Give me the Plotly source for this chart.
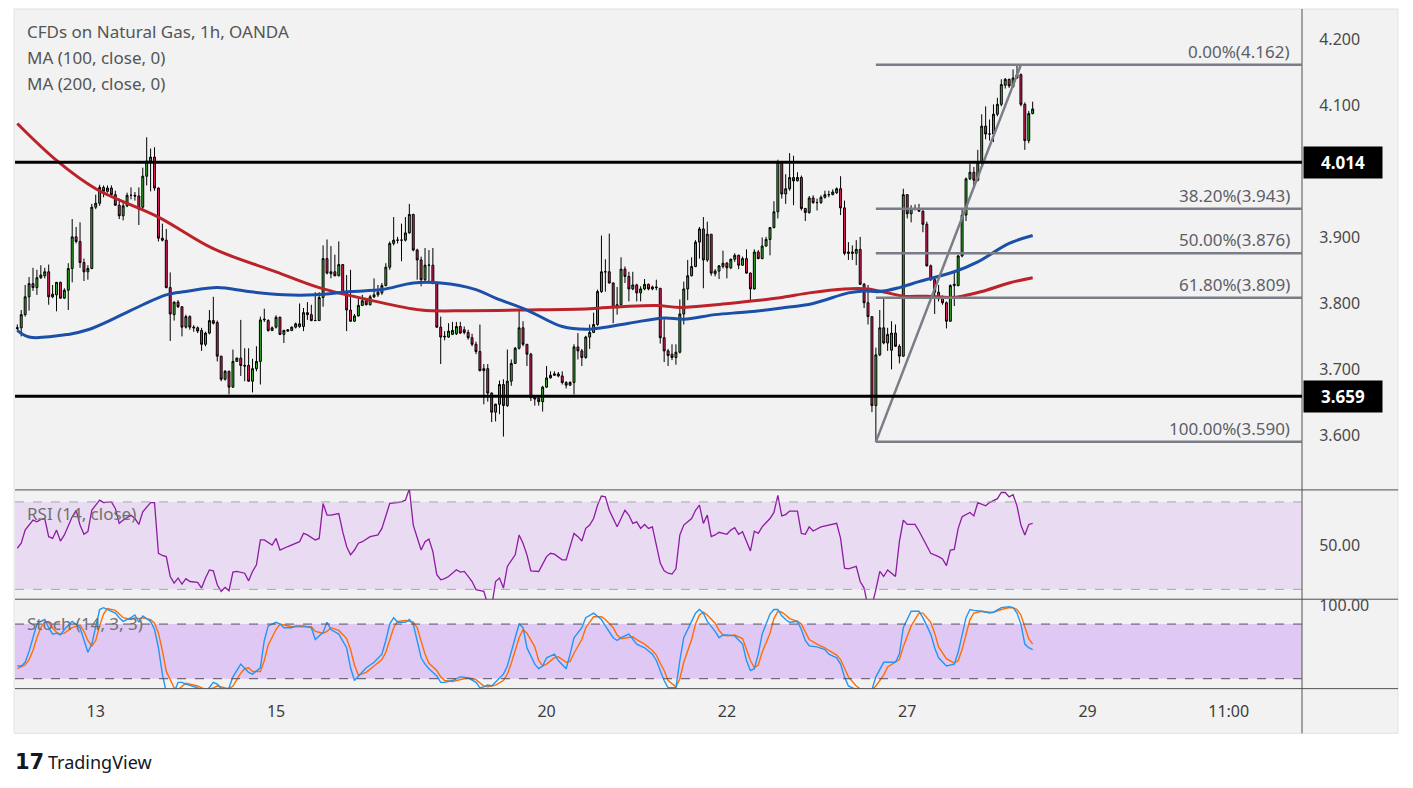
import plotly.graph_objects as go

# hourly candles, CFDs on Natural Gas (OANDA)
opens = [3.762, 3.763, 3.783, 3.810, 3.830, 3.824, 3.839, 3.842, 3.848, 3.810,
         3.813, 3.832, 3.808, 3.820, 3.853, 3.901, 3.894, 3.862, 3.848, 3.853,
         3.946, 3.952, 3.976, 3.970, 3.975, 3.965, 3.949, 3.933, 3.948, 3.964,
         3.964, 3.963, 3.946, 3.993, 4.016, 4.022, 3.975, 3.899, 3.896, 3.824,
         3.783, 3.802, 3.795, 3.764, 3.780, 3.764, 3.763, 3.759, 3.738, 3.755,
         3.774, 3.771, 3.720, 3.685, 3.697, 3.673, 3.712, 3.717, 3.706, 3.706,
         3.682, 3.701, 3.712, 3.775, 3.774, 3.759, 3.764, 3.779, 3.753, 3.758,
         3.759, 3.764, 3.765, 3.765, 3.786, 3.783, 3.774, 3.774, 3.809, 3.868,
         3.845, 3.848, 3.842, 3.859, 3.816, 3.790, 3.773, 3.781, 3.797, 3.804,
         3.798, 3.810, 3.813, 3.816, 3.827, 3.855, 3.891, 3.896, 3.896, 3.896,
         3.907, 3.935, 3.881, 3.866, 3.836, 3.858, 3.858, 3.831, 3.764, 3.749,
         3.749, 3.753, 3.754, 3.765, 3.760, 3.756, 3.748, 3.738, 3.727, 3.698,
         3.701, 3.664, 3.635, 3.647, 3.677, 3.645, 3.682, 3.709, 3.732, 3.763,
         3.738, 3.723, 3.657, 3.656, 3.651, 3.673, 3.687, 3.691, 3.693, 3.690,
         3.680, 3.676, 3.680, 3.734, 3.728, 3.718, 3.749, 3.756, 3.768, 3.818,
         3.848, 3.848, 3.831, 3.794, 3.798, 3.852, 3.841, 3.822, 3.828, 3.816,
         3.822, 3.829, 3.822, 3.825, 3.823, 3.748, 3.728, 3.723, 3.718, 3.726,
         3.784, 3.822, 3.842, 3.856, 3.893, 3.913, 3.866, 3.905, 3.845, 3.849,
         3.856, 3.861, 3.854, 3.867, 3.873, 3.858, 3.868, 3.846, 3.822, 3.878,
         3.868, 3.887, 3.897, 3.915, 3.939, 4.014, 3.966, 3.974, 3.991, 3.986,
         3.991, 3.944, 3.938, 3.960, 3.953, 3.953, 3.961, 3.965, 3.965, 3.968,
         3.974, 3.945, 3.878, 3.878, 3.876, 3.882, 3.829, 3.801, 3.780, 3.645,
         3.722, 3.763, 3.740, 3.729, 3.755, 3.735, 3.720, 3.965, 3.936, 3.944,
         3.944, 3.940, 3.920, 3.857, 3.836, 3.817, 3.809, 3.801, 3.773, 3.827,
         3.827, 3.872, 3.934, 3.989, 3.999, 3.987, 4.014, 4.069, 4.057, 4.057,
         4.087, 4.102, 4.131, 4.140, 4.129, 4.142, 4.147, 4.102, 4.047, 4.088]
highs = [3.768, 3.790, 3.828, 3.840, 3.854, 3.851, 3.858, 3.854, 3.859, 3.828,
         3.832, 3.833, 3.823, 3.861, 3.928, 3.916, 3.923, 3.868, 3.858, 3.951,
         3.965, 3.980, 3.979, 3.979, 3.979, 3.971, 3.959, 3.956, 3.968, 3.976,
         3.969, 3.976, 4.006, 4.052, 4.035, 4.037, 3.976, 3.921, 3.913, 3.847,
         3.803, 3.805, 3.795, 3.783, 3.782, 3.767, 3.765, 3.763, 3.757, 3.790,
         3.810, 3.774, 3.720, 3.699, 3.698, 3.730, 3.718, 3.775, 3.732, 3.732,
         3.716, 3.735, 3.780, 3.792, 3.776, 3.765, 3.782, 3.780, 3.760, 3.761,
         3.765, 3.771, 3.800, 3.793, 3.802, 3.798, 3.817, 3.817, 3.888, 3.897,
         3.887, 3.874, 3.894, 3.859, 3.843, 3.851, 3.784, 3.808, 3.813, 3.808,
         3.813, 3.838, 3.828, 3.831, 3.861, 3.894, 3.931, 3.901, 3.921, 3.931,
         3.951, 3.936, 3.883, 3.871, 3.884, 3.881, 3.884, 3.833, 3.780, 3.758,
         3.770, 3.772, 3.772, 3.772, 3.765, 3.760, 3.754, 3.742, 3.768, 3.708,
         3.708, 3.665, 3.648, 3.683, 3.685, 3.730, 3.715, 3.734, 3.790, 3.773,
         3.738, 3.725, 3.660, 3.659, 3.675, 3.705, 3.697, 3.697, 3.696, 3.697,
         3.682, 3.682, 3.738, 3.755, 3.731, 3.751, 3.768, 3.786, 3.821, 3.903,
         3.867, 3.906, 3.832, 3.825, 3.870, 3.856, 3.848, 3.848, 3.830, 3.826,
         3.837, 3.830, 3.827, 3.836, 3.823, 3.776, 3.731, 3.738, 3.738, 3.806,
         3.833, 3.866, 3.870, 3.896, 3.916, 3.931, 3.924, 3.905, 3.852, 3.858,
         3.880, 3.863, 3.868, 3.876, 3.874, 3.871, 3.882, 3.847, 3.882, 3.881,
         3.900, 3.901, 3.916, 3.955, 4.018, 4.016, 3.996, 4.028, 4.024, 3.999,
         3.994, 3.945, 3.963, 3.964, 3.959, 3.964, 3.971, 3.971, 3.973, 3.976,
         3.993, 3.956, 3.893, 3.888, 3.896, 3.901, 3.831, 3.828, 3.780, 3.733,
         3.790, 3.808, 3.763, 3.773, 3.768, 3.738, 3.974, 3.966, 3.949, 3.950,
         3.951, 3.941, 3.924, 3.859, 3.838, 3.828, 3.812, 3.803, 3.829, 3.848,
         3.874, 3.944, 3.991, 4.012, 4.007, 4.033, 4.087, 4.099, 4.079, 4.102,
         4.112, 4.140, 4.142, 4.141, 4.155, 4.162, 4.149, 4.105, 4.092, 4.106]
lows = [3.759, 3.750, 3.780, 3.789, 3.819, 3.813, 3.837, 3.838, 3.798, 3.808,
        3.788, 3.807, 3.807, 3.790, 3.832, 3.891, 3.854, 3.834, 3.836, 3.852,
        3.943, 3.948, 3.961, 3.968, 3.964, 3.948, 3.928, 3.926, 3.946, 3.958,
        3.956, 3.919, 3.941, 3.979, 3.970, 3.971, 3.894, 3.894, 3.823, 3.743,
        3.774, 3.793, 3.750, 3.762, 3.760, 3.757, 3.755, 3.728, 3.735, 3.753,
        3.768, 3.712, 3.682, 3.683, 3.662, 3.672, 3.712, 3.690, 3.682, 3.681,
        3.665, 3.697, 3.677, 3.772, 3.757, 3.758, 3.762, 3.752, 3.740, 3.757,
        3.758, 3.762, 3.763, 3.758, 3.775, 3.773, 3.774, 3.774, 3.795, 3.844,
        3.838, 3.841, 3.841, 3.813, 3.758, 3.772, 3.772, 3.780, 3.796, 3.797,
        3.797, 3.808, 3.810, 3.813, 3.826, 3.851, 3.888, 3.891, 3.864, 3.894,
        3.906, 3.879, 3.836, 3.826, 3.833, 3.833, 3.829, 3.763, 3.708, 3.744,
        3.748, 3.752, 3.752, 3.754, 3.753, 3.745, 3.735, 3.723, 3.697, 3.647,
        3.651, 3.620, 3.621, 3.632, 3.598, 3.643, 3.675, 3.708, 3.730, 3.735,
        3.705, 3.652, 3.645, 3.645, 3.636, 3.672, 3.686, 3.690, 3.688, 3.677,
        3.671, 3.675, 3.662, 3.715, 3.705, 3.716, 3.731, 3.755, 3.766, 3.816,
        3.818, 3.830, 3.770, 3.783, 3.797, 3.831, 3.803, 3.820, 3.803, 3.803,
        3.820, 3.820, 3.820, 3.820, 3.739, 3.711, 3.705, 3.714, 3.707, 3.724,
        3.768, 3.805, 3.841, 3.855, 3.868, 3.823, 3.863, 3.842, 3.841, 3.837,
        3.853, 3.838, 3.852, 3.863, 3.852, 3.857, 3.845, 3.805, 3.821, 3.867,
        3.867, 3.886, 3.873, 3.914, 3.929, 3.959, 3.951, 3.971, 3.949, 3.985,
        3.941, 3.925, 3.936, 3.951, 3.941, 3.951, 3.959, 3.961, 3.964, 3.966,
        3.934, 3.873, 3.866, 3.866, 3.858, 3.828, 3.793, 3.768, 3.635, 3.590,
        3.720, 3.738, 3.728, 3.700, 3.734, 3.709, 3.719, 3.929, 3.923, 3.941,
        3.939, 3.908, 3.856, 3.834, 3.784, 3.803, 3.798, 3.762, 3.772, 3.796,
        3.826, 3.870, 3.925, 3.987, 3.979, 3.985, 4.007, 4.049, 4.047, 4.045,
        4.084, 4.099, 4.126, 4.127, 4.127, 4.141, 4.099, 4.033, 4.043, 4.087]
closes = [3.763, 3.783, 3.810, 3.830, 3.824, 3.839, 3.843, 3.848, 3.810, 3.814,
          3.832, 3.808, 3.820, 3.853, 3.901, 3.894, 3.862, 3.848, 3.853, 3.946,
          3.952, 3.976, 3.970, 3.975, 3.965, 3.949, 3.933, 3.948, 3.964, 3.964,
          3.963, 3.943, 3.993, 4.016, 4.022, 3.975, 3.899, 3.896, 3.824, 3.784,
          3.802, 3.795, 3.764, 3.780, 3.764, 3.763, 3.758, 3.738, 3.755, 3.774,
          3.770, 3.720, 3.685, 3.697, 3.673, 3.712, 3.717, 3.706, 3.705, 3.682,
          3.701, 3.712, 3.775, 3.776, 3.759, 3.763, 3.779, 3.753, 3.759, 3.760,
          3.764, 3.769, 3.769, 3.786, 3.783, 3.774, 3.774, 3.809, 3.868, 3.846,
          3.848, 3.842, 3.859, 3.816, 3.790, 3.773, 3.781, 3.797, 3.804, 3.798,
          3.810, 3.813, 3.817, 3.827, 3.855, 3.891, 3.896, 3.896, 3.896, 3.907,
          3.935, 3.881, 3.866, 3.836, 3.858, 3.858, 3.831, 3.764, 3.749, 3.750,
          3.758, 3.759, 3.765, 3.755, 3.756, 3.748, 3.738, 3.727, 3.698, 3.701,
          3.664, 3.635, 3.647, 3.677, 3.645, 3.682, 3.709, 3.732, 3.763, 3.738,
          3.723, 3.657, 3.655, 3.651, 3.673, 3.687, 3.691, 3.693, 3.690, 3.680,
          3.676, 3.680, 3.734, 3.728, 3.718, 3.749, 3.756, 3.768, 3.818, 3.848,
          3.848, 3.831, 3.794, 3.798, 3.852, 3.841, 3.822, 3.828, 3.816, 3.822,
          3.829, 3.822, 3.825, 3.824, 3.748, 3.728, 3.721, 3.718, 3.726, 3.784,
          3.822, 3.842, 3.856, 3.893, 3.913, 3.866, 3.905, 3.846, 3.849, 3.857,
          3.861, 3.854, 3.867, 3.873, 3.858, 3.868, 3.846, 3.822, 3.878, 3.868,
          3.887, 3.897, 3.915, 3.939, 4.014, 3.966, 3.974, 3.991, 3.986, 3.991,
          3.944, 3.938, 3.960, 3.953, 3.953, 3.961, 3.965, 3.965, 3.969, 3.974,
          3.945, 3.876, 3.876, 3.876, 3.882, 3.829, 3.801, 3.780, 3.645, 3.722,
          3.763, 3.740, 3.753, 3.755, 3.735, 3.720, 3.965, 3.936, 3.944, 3.944,
          3.940, 3.920, 3.857, 3.836, 3.817, 3.807, 3.801, 3.773, 3.827, 3.829,
          3.872, 3.934, 3.989, 3.999, 3.987, 4.014, 4.069, 4.057, 4.057, 4.087,
          4.102, 4.132, 4.140, 4.130, 4.142, 4.147, 4.102, 4.047, 4.088, 4.095]

# moving averages (bar index, value)
ma100_bar = [0, 3, 13, 18, 25, 32, 38, 43, 51, 59, 68, 76, 85, 93, 101, 108, 117, 122,
             130, 139, 146, 156, 165, 170, 178, 186, 195, 203, 212, 216, 220, 225, 230,
             239, 245, 253, 259]
ma100 = [3.759, 3.749, 3.753, 3.760, 3.778, 3.798, 3.813, 3.818, 3.824, 3.818, 3.813,
         3.813, 3.818, 3.821, 3.831, 3.831, 3.821, 3.808, 3.790, 3.765, 3.761, 3.770,
         3.778, 3.776, 3.783, 3.787, 3.793, 3.800, 3.816, 3.819, 3.818, 3.824, 3.833,
         3.848, 3.863, 3.891, 3.903]
ma200_bar = [0, 10, 20, 36, 50, 66, 77, 90, 103, 115, 130, 146, 154, 163, 169, 180, 188,
             195, 202, 211, 217, 222, 226, 232, 238, 241, 246, 253, 259]
ma200 = [4.073, 4.017, 3.974, 3.931, 3.883, 3.848, 3.824, 3.805, 3.790, 3.789, 3.790,
         3.792, 3.795, 3.797, 3.794, 3.799, 3.804, 3.809, 3.816, 3.822, 3.822, 3.816,
         3.811, 3.811, 3.809, 3.811, 3.818, 3.831, 3.839]

# RSI (14, close)
rsi_bar = [0, 1, 2, 3, 4, 5, 6, 7, 8, 9, 10, 11, 12, 14, 15, 16, 17, 18, 19, 20, 21, 22,
           24, 25, 26, 27, 29, 30, 31, 32, 34, 35, 36, 37, 38, 39, 40, 41, 42, 43, 44, 46,
           47, 48, 49, 50, 51, 52, 53, 54, 55, 56, 58, 59, 60, 61, 62, 63, 65, 66, 67, 69,
           71, 72, 73, 74, 76, 77, 78, 79, 80, 82, 83, 84, 85, 86, 87, 88, 90, 92, 93, 94,
           95, 97, 98, 99, 100, 101, 102, 103, 104, 105, 106, 107, 108, 109, 110, 112, 113,
           114, 115, 116, 117, 119, 120, 121, 122, 123, 124, 125, 127, 128, 129, 130, 131,
           133, 135, 136, 137, 139, 140, 142, 143, 144, 145, 146, 147, 148, 149, 150, 151,
           153, 154, 155, 156, 157, 158, 159, 160, 161, 162, 164, 165, 166, 167, 168, 169,
           170, 172, 173, 174, 175, 176, 177, 178, 179, 181, 182, 183, 184, 185, 186, 187,
           188, 189, 190, 192, 193, 194, 195, 196, 197, 198, 199, 200, 201, 202, 203, 205,
           207, 209, 210, 211, 212, 214, 215, 216, 217, 218, 219, 220, 221, 222, 223, 224,
           225, 226, 227, 229, 230, 232, 233, 235, 236, 237, 238, 239, 240, 241, 243, 244,
           245, 247, 248, 250, 251, 252, 253, 254, 255, 256, 257, 258, 259]
rsi = [48.8, 51.1, 57.1, 59.4, 61.7, 60.9, 62.0, 62.4, 54.1, 53.3, 57.1, 52.1, 54.9, 63.2,
       66.2, 59.4, 55.2, 56.4, 66.2, 68.5, 70.8, 69.7, 70.0, 67.0, 60.2, 61.7, 63.9, 62.4,
       59.7, 65.5, 69.7, 69.7, 46.5, 45.5, 45.0, 35.9, 32.9, 35.2, 32.4, 34.9, 33.6, 33.2,
       30.6, 35.2, 38.9, 38.5, 32.1, 29.1, 30.9, 29.4, 37.9, 38.2, 37.4, 33.9, 38.2, 41.2,
       52.6, 52.6, 50.3, 53.3, 48.0, 49.6, 51.1, 51.8, 55.6, 54.9, 52.6, 53.3, 69.3, 64.0,
       64.0, 64.7, 56.4, 49.6, 45.8, 48.0, 51.1, 51.8, 54.1, 54.9, 57.9, 63.9, 69.3, 69.7,
       70.0, 70.8, 76.0, 59.4, 54.1, 48.0, 51.8, 53.0, 47.3, 36.7, 34.4, 34.9, 35.9, 39.0,
       37.9, 38.2, 35.9, 33.6, 29.9, 29.1, 23.0, 22.0, 33.6, 35.2, 30.6, 40.5, 45.8, 54.9,
       51.1, 45.8, 38.5, 38.2, 45.0, 46.5, 46.1, 43.5, 43.5, 55.6, 54.1, 52.1, 57.9, 59.4,
       62.4, 68.5, 72.7, 72.3, 66.2, 58.6, 62.4, 66.2, 63.9, 60.2, 60.9, 57.9, 59.7, 57.9,
       58.6, 42.0, 38.5, 37.4, 37.0, 39.4, 54.9, 59.4, 62.4, 66.2, 68.5, 60.2, 64.0, 54.1,
       54.9, 56.1, 55.2, 57.1, 58.2, 55.2, 56.4, 51.8, 47.6, 56.6, 55.6, 58.6, 62.4, 65.2,
       73.0, 63.6, 64.2, 65.8, 65.8, 65.8, 55.6, 55.2, 58.6, 56.7, 58.6, 59.4, 60.2, 53.3,
       39.7, 39.4, 40.5, 33.6, 30.6, 22.0, 22.5, 29.9, 38.2, 35.9, 38.9, 37.4, 35.9, 51.8,
       61.7, 59.7, 59.7, 56.7, 49.6, 46.5, 45.0, 43.9, 40.9, 48.0, 48.3, 57.9, 63.2, 65.2,
       63.6, 69.7, 68.2, 69.7, 71.5, 74.3, 74.3, 72.3, 73.3, 68.2, 59.4, 54.9, 59.7, 60.2]

# Stoch (14, 3, 3): %K and %D
stoch_bar = [0, 1, 2, 3, 4, 5, 6, 7, 8, 9, 10, 11, 12, 14, 16, 17, 18, 19, 20, 21, 22, 23,
             25, 26, 27, 29, 30, 31, 32, 34, 35, 36, 37, 38, 40, 41, 42, 43, 46, 48, 50, 51,
             53, 54, 55, 57, 58, 59, 60, 62, 63, 64, 66, 67, 68, 70, 71, 73, 75, 76, 78, 79,
             80, 82, 84, 85, 86, 87, 89, 91, 93, 94, 95, 96, 97, 99, 100, 101, 102, 103, 104,
             105, 107, 108, 109, 111, 113, 115, 117, 118, 119, 120, 121, 122, 124, 125, 126,
             127, 128, 129, 130, 132, 133, 134, 135, 137, 138, 140, 141, 142, 144, 145, 147,
             149, 150, 152, 153, 154, 156, 157, 158, 160, 162, 163, 164, 165, 166, 168, 169,
             170, 172, 173, 174, 175, 176, 178, 179, 180, 181, 183, 185, 186, 187, 188, 189,
             190, 192, 193, 194, 195, 196, 197, 199, 200, 201, 202, 204, 206, 207, 209, 210,
             211, 212, 214, 215, 217, 218, 219, 221, 222, 224, 225, 226, 228, 230, 231, 233,
             234, 235, 237, 239, 240, 241, 242, 243, 244, 246, 248, 249, 251, 253, 254, 255,
             256, 257, 258, 259]
stoch_k = [34, 34, 38, 50, 65, 80, 83, 85, 76, 69, 70, 68, 74, 83, 76, 62, 49, 58, 78, 96,
           98, 96, 92, 87, 83, 87, 90, 82, 89, 83, 74, 54, 25, 5, 5, 16, 16, 14, 10, 5, 16,
           14, 5, 10, 22, 36, 32, 27, 25, 32, 62, 78, 82, 80, 76, 76, 78, 78, 76, 63, 71, 82,
           74, 69, 54, 32, 18, 23, 32, 38, 47, 62, 80, 87, 82, 82, 85, 80, 62, 43, 36, 31, 23,
           16, 16, 18, 22, 21, 16, 10, 11, 13, 12, 16, 25, 34, 51, 65, 80, 76, 54, 36, 31, 34,
           43, 47, 40, 31, 47, 65, 76, 87, 92, 85, 78, 65, 62, 65, 69, 63, 58, 54, 47, 40, 29,
           18, 10, 10, 40, 65, 83, 92, 96, 92, 83, 72, 65, 68, 68, 67, 58, 40, 29, 31, 47, 69,
           91, 96, 96, 89, 85, 82, 83, 74, 62, 56, 55, 52, 47, 43, 36, 22, 12, 8, 8, 8, 8, 22,
           38, 38, 38, 47, 76, 94, 94, 87, 69, 54, 43, 34, 36, 49, 69, 87, 96, 95, 94, 92, 93,
           98, 99, 98, 92, 80, 58, 54, 52]
stoch_d = [31, 33, 35, 41, 51, 65, 76, 83, 81, 76, 71, 69, 70, 76, 79, 72, 62, 56, 62, 78,
           91, 97, 95, 91, 87, 85, 87, 86, 87, 85, 81, 70, 51, 28, 10, 8, 12, 15, 12, 8, 10,
           12, 10, 9, 12, 26, 31, 32, 28, 28, 40, 57, 74, 80, 79, 77, 77, 77, 77, 72, 70, 72,
           76, 73, 64, 52, 35, 24, 27, 34, 41, 49, 63, 76, 83, 84, 83, 82, 76, 62, 47, 37, 29,
           22, 18, 17, 19, 21, 19, 15, 12, 11, 12, 13, 18, 25, 37, 50, 65, 74, 70, 55, 40, 34,
           36, 43, 44, 38, 39, 48, 63, 76, 88, 88, 85, 76, 68, 64, 65, 66, 63, 58, 51, 46, 37,
           29, 18, 11, 20, 38, 63, 80, 90, 93, 90, 81, 73, 68, 67, 68, 64, 52, 40, 32, 35, 49,
           70, 86, 94, 93, 90, 86, 83, 80, 72, 63, 58, 54, 51, 46, 41, 32, 22, 12, 9, 8, 8, 12,
           24, 33, 38, 41, 55, 78, 92, 92, 82, 70, 55, 42, 37, 40, 52, 68, 85, 92, 94, 93, 93,
           96, 98, 98, 96, 90, 76, 64, 58]

# drawn levels
key_levels = [4.014, 3.659]
fib_low, fib_high = 3.590, 4.162
fib_ratios = [0.0, 0.382, 0.5, 0.618, 1.0]
fib_start_bar, fib_end_bar = 219, 256

day_ticks = [20, 66, 135, 181, 227, 273, 309]
day_labels = ['13', '15', '20', '22', '27', '29', '11:00']
price_ticks = [3.6, 3.7, 3.8, 3.9, 4.1, 4.2]

W, H = 1413, 788
FONT = 'Noto Sans'
GRID = '#f2f2f2'


def px_x(v):
    return v / W


def px_y(v):
    return 1 - v / H


bars = list(range(len(closes)))
xdom = [px_x(15), px_x(1302)]
xrange_ = [-0.59, 327.7]

fig = go.Figure()

fig.add_trace(go.Candlestick(
    x=bars, open=opens, high=highs, low=lows, close=closes,
    increasing=dict(fillcolor='#35b52a', line=dict(color='#000000', width=1)),
    decreasing=dict(fillcolor='#ea1d5d', line=dict(color='#000000', width=1)),
    whiskerwidth=0, xaxis='x', yaxis='y', hoverinfo='skip',
))
fig.add_trace(go.Scatter(x=ma200_bar, y=ma200, mode='lines', line=dict(color='#bb2229', width=3, shape='spline'),
                         xaxis='x', yaxis='y'))
fig.add_trace(go.Scatter(x=ma100_bar, y=ma100, mode='lines', line=dict(color='#1b4fa8', width=3, shape='spline'),
                         xaxis='x', yaxis='y'))

fig.add_trace(go.Scatter(x=rsi_bar, y=rsi, mode='lines', line=dict(color='#8e1ba3', width=1.3),
                         xaxis='x2', yaxis='y2'))
fig.add_trace(go.Scatter(x=stoch_bar, y=stoch_d, mode='lines', line=dict(color='#ff6d00', width=1.4),
                         xaxis='x3', yaxis='y3'))
fig.add_trace(go.Scatter(x=stoch_bar, y=stoch_k, mode='lines', line=dict(color='#2196f3', width=1.4),
                         xaxis='x3', yaxis='y3'))

shapes = []
# chart frame
shapes.append(dict(type='rect', xref='paper', yref='paper', x0=px_x(14), x1=px_x(1398), y0=px_y(733), y1=px_y(4),
                   fillcolor=GRID, line=dict(color='#e3e3e3', width=1), layer='below'))
# indicator bands
shapes.append(dict(type='rect', xref='x2 domain', yref='y2', x0=0, x1=1, y0=30, y1=70,
                   fillcolor='#e9dcf2', line=dict(width=0), layer='below'))
shapes.append(dict(type='rect', xref='x3 domain', yref='y3', x0=0, x1=1, y0=20, y1=80,
                   fillcolor='#e0c8f4', line=dict(width=0), layer='below'))
for lv in [30, 70]:
    shapes.append(dict(type='line', xref='x2 domain', yref='y2', x0=0, x1=1, y0=lv, y1=lv,
                       line=dict(color='#a8a4ad', width=1, dash='dash')))
for lv in [20, 80]:
    shapes.append(dict(type='line', xref='x3 domain', yref='y3', x0=0, x1=1, y0=lv, y1=lv,
                       line=dict(color='#55505a', width=1, dash='dash')))
# pane separators and price scale border
for yy in [488, 598, 688]:
    shapes.append(dict(type='line', xref='paper', yref='paper', x0=px_x(15), x1=px_x(1398), y0=px_y(yy), y1=px_y(yy),
                       line=dict(color='#505050', width=1)))
shapes.append(dict(type='line', xref='paper', yref='paper', x0=px_x(1302), x1=px_x(1302), y0=px_y(733), y1=px_y(4),
                   line=dict(color='#505050', width=1)))

# fibonacci retracement
fib_color = '#7a7c86'
for r in fib_ratios:
    lv = fib_high - r * (fib_high - fib_low)
    shapes.append(dict(type='line', xref='x', yref='y', x0=fib_start_bar, x1=xrange_[1], y0=lv, y1=lv,
                       line=dict(color=fib_color, width=2.5)))
shapes.append(dict(type='line', xref='x', yref='y', x0=fib_start_bar, x1=fib_end_bar, y0=fib_low, y1=fib_high,
                   line=dict(color=fib_color, width=2.5)))
# support / resistance
for lv in key_levels:
    shapes.append(dict(type='line', xref='x domain', yref='y', x0=0, x1=1, y0=lv, y1=lv,
                       line=dict(color='#000000', width=3)))

annotations = []
for i, t in enumerate(['CFDs on Natural Gas, 1h, OANDA', 'MA (100, close, 0)', 'MA (200, close, 0)']):
    annotations.append(dict(xref='paper', yref='paper', x=px_x(25), y=px_y(27 + 26 * i), text=t,
                            showarrow=False, xanchor='left', yanchor='middle',
                            font=dict(family=FONT, size=17, color='#555555')))
annotations.append(dict(xref='paper', yref='paper', x=px_x(25), y=px_y(512), text='RSI (14, close)',
                        showarrow=False, xanchor='left', yanchor='middle',
                        font=dict(family=FONT, size=17, color='#707070')))
annotations.append(dict(xref='paper', yref='paper', x=px_x(25), y=px_y(622), text='Stoch (14, 3, 3)',
                        showarrow=False, xanchor='left', yanchor='middle',
                        font=dict(family=FONT, size=17, color='#707070')))
for r in fib_ratios:
    lv = fib_high - r * (fib_high - fib_low)
    annotations.append(dict(xref='paper', yref='y', x=px_x(1292), y=lv, text='%.2f%%(%.3f)' % (r * 100, lv),
                            showarrow=False, xanchor='right', yanchor='bottom', yshift=0,
                            font=dict(family=FONT, size=17, color='#5d5f68')))
for lv in key_levels:
    annotations.append(dict(xref='paper', yref='y', x=px_x(1303), y=lv, text='<b>%.3f</b>' % lv,
                            showarrow=False, xanchor='left', yanchor='middle', bgcolor='#000000',
                            borderpad=4, width=70, align='center',
                            font=dict(family=FONT, size=17, color='#ffffff')))
annotations.append(dict(xref='paper', yref='paper', x=px_x(13), y=px_y(762), text='<b>17</b>',
                        showarrow=False, xanchor='left', yanchor='middle',
                        font=dict(family='DejaVu Sans', size=21, color='#131722')))
annotations.append(dict(xref='paper', yref='paper', x=px_x(46), y=px_y(762), text='TradingView',
                        showarrow=False, xanchor='left', yanchor='middle',
                        font=dict(family=FONT, size=18, color='#131722')))

axis_common = dict(showgrid=False, zeroline=False, showline=False, domain=xdom, range=xrange_,
                   rangeslider=dict(visible=False))
fig.update_layout(
    width=W, height=H,
    margin=dict(l=0, r=0, t=0, b=0),
    paper_bgcolor='#ffffff', plot_bgcolor='rgba(0,0,0,0)',
    showlegend=False,
    xaxis=dict(**axis_common, anchor='y', showticklabels=False),
    xaxis2=dict(**axis_common, anchor='y2', matches='x', showticklabels=False),
    xaxis3=dict(**axis_common, anchor='y3', matches='x', tickmode='array', tickvals=day_ticks, ticktext=day_labels,
                ticks='outside', ticklen=8, tickcolor='rgba(0,0,0,0)',
                tickfont=dict(family=FONT, size=16, color='#3c3c3c')),
    yaxis=dict(domain=[px_y(488), px_y(4)], range=[3.5171, 4.2467], side='right', anchor='x',
               showgrid=False, zeroline=False, tickmode='array', tickvals=price_ticks,
               ticktext=['%.3f' % v for v in price_ticks], ticks='outside', ticklen=13, tickcolor='rgba(0,0,0,0)',
               tickfont=dict(family=FONT, size=16, color='#4a4a4a')),
    yaxis2=dict(domain=[px_y(598), px_y(488)], range=[25.5, 75.5], side='right', anchor='x2',
                showgrid=False, zeroline=False, tickmode='array', tickvals=[50], ticktext=['50.00'],
                ticks='outside', ticklen=13, tickcolor='rgba(0,0,0,0)',
                tickfont=dict(family=FONT, size=16, color='#4a4a4a')),
    yaxis3=dict(domain=[px_y(688), px_y(598)], range=[9.1, 107.3], side='right', anchor='x3',
                showgrid=False, zeroline=False, tickmode='array', tickvals=[100], ticktext=['100.00'],
                ticks='outside', ticklen=13, tickcolor='rgba(0,0,0,0)',
                tickfont=dict(family=FONT, size=16, color='#4a4a4a')),
    shapes=shapes,
    annotations=annotations,
)

# drop the browser's default page margin so the figure sits at the window origin
fig.write_html('out.html', config={'displayModeBar': False},
               post_script="document.body.style.margin='0';")
